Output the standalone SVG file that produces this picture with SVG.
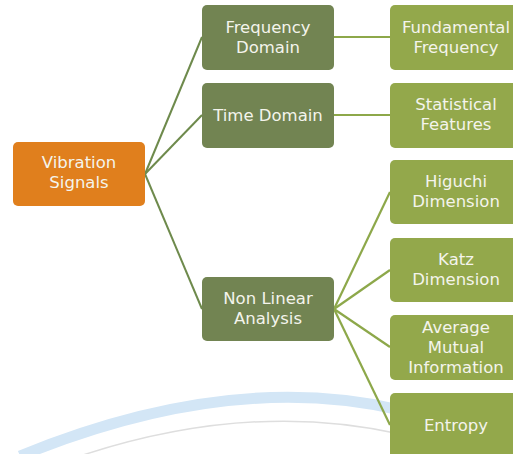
<svg xmlns="http://www.w3.org/2000/svg" width="513" height="454" viewBox="0 0 513 454">
<style>
.lbl{font-family:"DejaVu Sans","Liberation Sans",sans-serif;font-size:16.5px;fill:#F4F4EC;text-anchor:middle}
.root{fill:#E07F1D}
.mid{fill:#728452}
.leaf{fill:#93A84B}
.c1{stroke:#6E8A4C;stroke-width:2;fill:none}
.c2{stroke:#8DA84A;stroke-width:2.2;fill:none}
</style>
<rect width="513" height="454" fill="#FFFFFF"/>
<g id="watermark">
<path d="M20,456 Q230,370 400,410" stroke="#D3E6F6" stroke-width="11" fill="none"/>
<path d="M80,456 Q250,400 400,434" stroke="#DEDEDE" stroke-width="1.5" fill="none"/>
</g>
<g id="connectors">
<line class="c1" x1="145" y1="174" x2="202" y2="37"/>
<line class="c1" x1="145" y1="174" x2="202" y2="115"/>
<line class="c1" x1="145" y1="174" x2="202" y2="309"/>
<line class="c2" x1="334" y1="37" x2="390" y2="37"/>
<line class="c2" x1="334" y1="115" x2="390" y2="115"/>
<line class="c2" x1="334" y1="309" x2="390" y2="192"/>
<line class="c2" x1="334" y1="309" x2="390" y2="270"/>
<line class="c2" x1="334" y1="309" x2="390" y2="347"/>
<line class="c2" x1="334" y1="309" x2="390" y2="425"/>
</g>
<g id="vibration-signals">
<rect class="root" x="13" y="142" width="132" height="64" rx="5"/>
<text class="lbl" x="79" y="168">Vibration</text>
<text class="lbl" x="79" y="188">Signals</text>
</g>
<g id="frequency-domain">
<rect class="mid" x="202" y="5" width="132" height="65" rx="5"/>
<text class="lbl" x="268" y="33">Frequency</text>
<text class="lbl" x="268" y="53">Domain</text>
</g>
<g id="time-domain">
<rect class="mid" x="202" y="83" width="132" height="65" rx="5"/>
<text class="lbl" x="268" y="121">Time Domain</text>
</g>
<g id="non-linear-analysis">
<rect class="mid" x="202" y="277" width="132" height="64" rx="5"/>
<text class="lbl" x="268" y="304">Non Linear</text>
<text class="lbl" x="268" y="324">Analysis</text>
</g>
<g id="fundamental-frequency">
<rect class="leaf" x="390" y="5" width="132" height="65" rx="5"/>
<text class="lbl" x="456" y="33">Fundamental</text>
<text class="lbl" x="456" y="53">Frequency</text>
</g>
<g id="statistical-features">
<rect class="leaf" x="390" y="83" width="132" height="65" rx="5"/>
<text class="lbl" x="456" y="110">Statistical</text>
<text class="lbl" x="456" y="130">Features</text>
</g>
<g id="higuchi-dimension">
<rect class="leaf" x="390" y="160" width="132" height="64" rx="5"/>
<text class="lbl" x="456" y="187">Higuchi</text>
<text class="lbl" x="456" y="207">Dimension</text>
</g>
<g id="katz-dimension">
<rect class="leaf" x="390" y="238" width="132" height="64" rx="5"/>
<text class="lbl" x="456" y="265">Katz</text>
<text class="lbl" x="456" y="285">Dimension</text>
</g>
<g id="average-mutual-information">
<rect class="leaf" x="390" y="315" width="132" height="65" rx="5"/>
<text class="lbl" x="456" y="333">Average</text>
<text class="lbl" x="456" y="353">Mutual</text>
<text class="lbl" x="456" y="373">Information</text>
</g>
<g id="entropy">
<rect class="leaf" x="390" y="393" width="132" height="65" rx="5"/>
<text class="lbl" x="456" y="431">Entropy</text>
</g>
</svg>
